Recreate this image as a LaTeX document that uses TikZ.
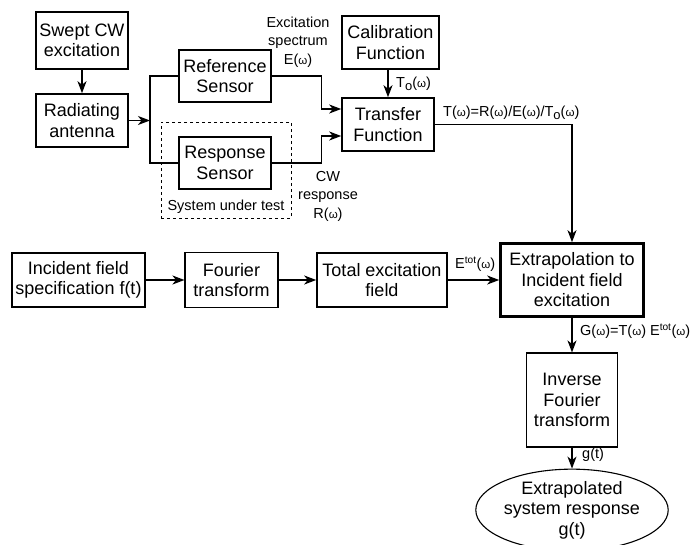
\documentclass[tikz,border=0pt]{standalone}
\usepackage{fontspec}
\setmainfont{Liberation Sans}
\usepackage{tikz}
\usetikzlibrary{arrows.meta,shapes.geometric}

\newcommand{\om}{{\fontsize{11.5}{11.5}\selectfont ω}}
\newcommand{\subo}{\raisebox{-0.4ex}{\fontsize{13}{13}\selectfont o}}

\begin{document}
\begin{tikzpicture}[x=1pt,y=-1pt,
  block/.style={draw,line width=1.6pt,inner sep=0pt,align=center,
    font=\fontsize{18}{20.5}\selectfont},
  thinblock/.style={block,line width=1.1pt},
  thickblock/.style={block,line width=2.6pt},
  lbl/.style={inner sep=0pt,align=center,font=\fontsize{14.5}{18.5}\selectfont},
  arr/.style={line width=1.4pt,-{Stealth[length=12pt,width=9pt,inset=3.5pt]}},
  wire/.style={line width=1.4pt}]
\useasboundingbox (0,0) rectangle (696,544);

\node[block,minimum width=92pt,minimum height=57pt] (swept) at (82,40.5) {Swept CW\\excitation};
\node[block,minimum width=92pt,minimum height=53pt] (radant) at (82,120.5) {Radiating\\antenna};
\node[block,minimum width=92pt,minimum height=52pt] (refs) at (225,76) {Reference\\Sensor};
\node[block,minimum width=92pt,minimum height=52pt] (resps) at (225,163) {Response\\Sensor};
\node[draw,dashed,line width=0.9pt,minimum width=130pt,minimum height=96pt] (sut) at (226,170) {};
\node[lbl] (sutlbl) at (226,207) {System under test};
\node[block,minimum width=97pt,minimum height=53pt] (calib) at (390.5,42.5) {Calibration\\Function};
\node[block,minimum width=92pt,minimum height=53pt] (trans) at (388,124.5) {Transfer\\Function};

\node[block,minimum width=133pt,minimum height=54pt] (incid) at (78.5,280) {Incident field\\specification f(t)};
\node[thinblock,minimum width=93pt,minimum height=55pt] (fourier) at (231.5,280) {Fourier\\transform};
\node[block,minimum width=130pt,minimum height=54pt] (totexc) at (382,280) {Total excitation\\field};
\node[thickblock,minimum width=143pt,minimum height=73pt] (extrap) at (572,280) {Extrapolation to\\Incident field\\excitation};
\node[thinblock,minimum width=91pt,minimum height=94pt] (invft) at (572,400) {Inverse\\Fourier\\transform};
\node[ellipse,draw,line width=1.1pt,inner sep=0pt,minimum width=180pt,minimum height=66pt,align=center,
  font=\fontsize{18}{20.5}\selectfont] (result) at (572,510) {Extrapolated\\system response\\g(t)};

% labels
\node[lbl] (exclbl) at (298,42) {Excitation\\spectrum\\E(\om)};
\node[lbl] (cwlbl) at (328,196) {CW\\response\\R(\om)};
\node[lbl,anchor=west] (tolbl) at (396,84) {T\subo(\om)};
\node[lbl,anchor=west] (tflbl) at (443,113) {T(\om)=R(\om)/E(\om)/T\subo(\om)};
\node[lbl,anchor=west] (etotlbl) at (455,264) {E\textsuperscript{tot}(\om)};
\node[lbl,anchor=west] (glbl) at (580,331) {G(\om)=T(\om) E\textsuperscript{tot}(\om)};
\node[lbl,anchor=west] (gtlbl) at (582,455) {g(t)};

\coordinate (split) at (150,120.5);

% upper chain
\draw[arr] (swept) -- (radant);
\draw[arr] (radant) -- (split);
\draw[wire] (refs.west) -| (split) |- (resps.west);
\draw[arr] (refs.east) -| ([xshift=-20pt,yshift=15.5pt]trans.west) -- ([yshift=15.5pt]trans.west);
\draw[arr] (resps.east) -| ([xshift=-20pt,yshift=-11.5pt]trans.west) -- ([yshift=-11.5pt]trans.west);
\draw[arr] (trans.north |- calib.south) -- (trans.north);
\draw[arr] (trans.east) -| (extrap.north);

% lower chain
\draw[arr] (incid) -- (fourier);
\draw[arr] (fourier) -- (totexc);
\draw[arr] (totexc) -- (extrap);
\draw[arr] (extrap) -- (invft);
\draw[arr] (invft) -- (result);
\end{tikzpicture}
\end{document}
